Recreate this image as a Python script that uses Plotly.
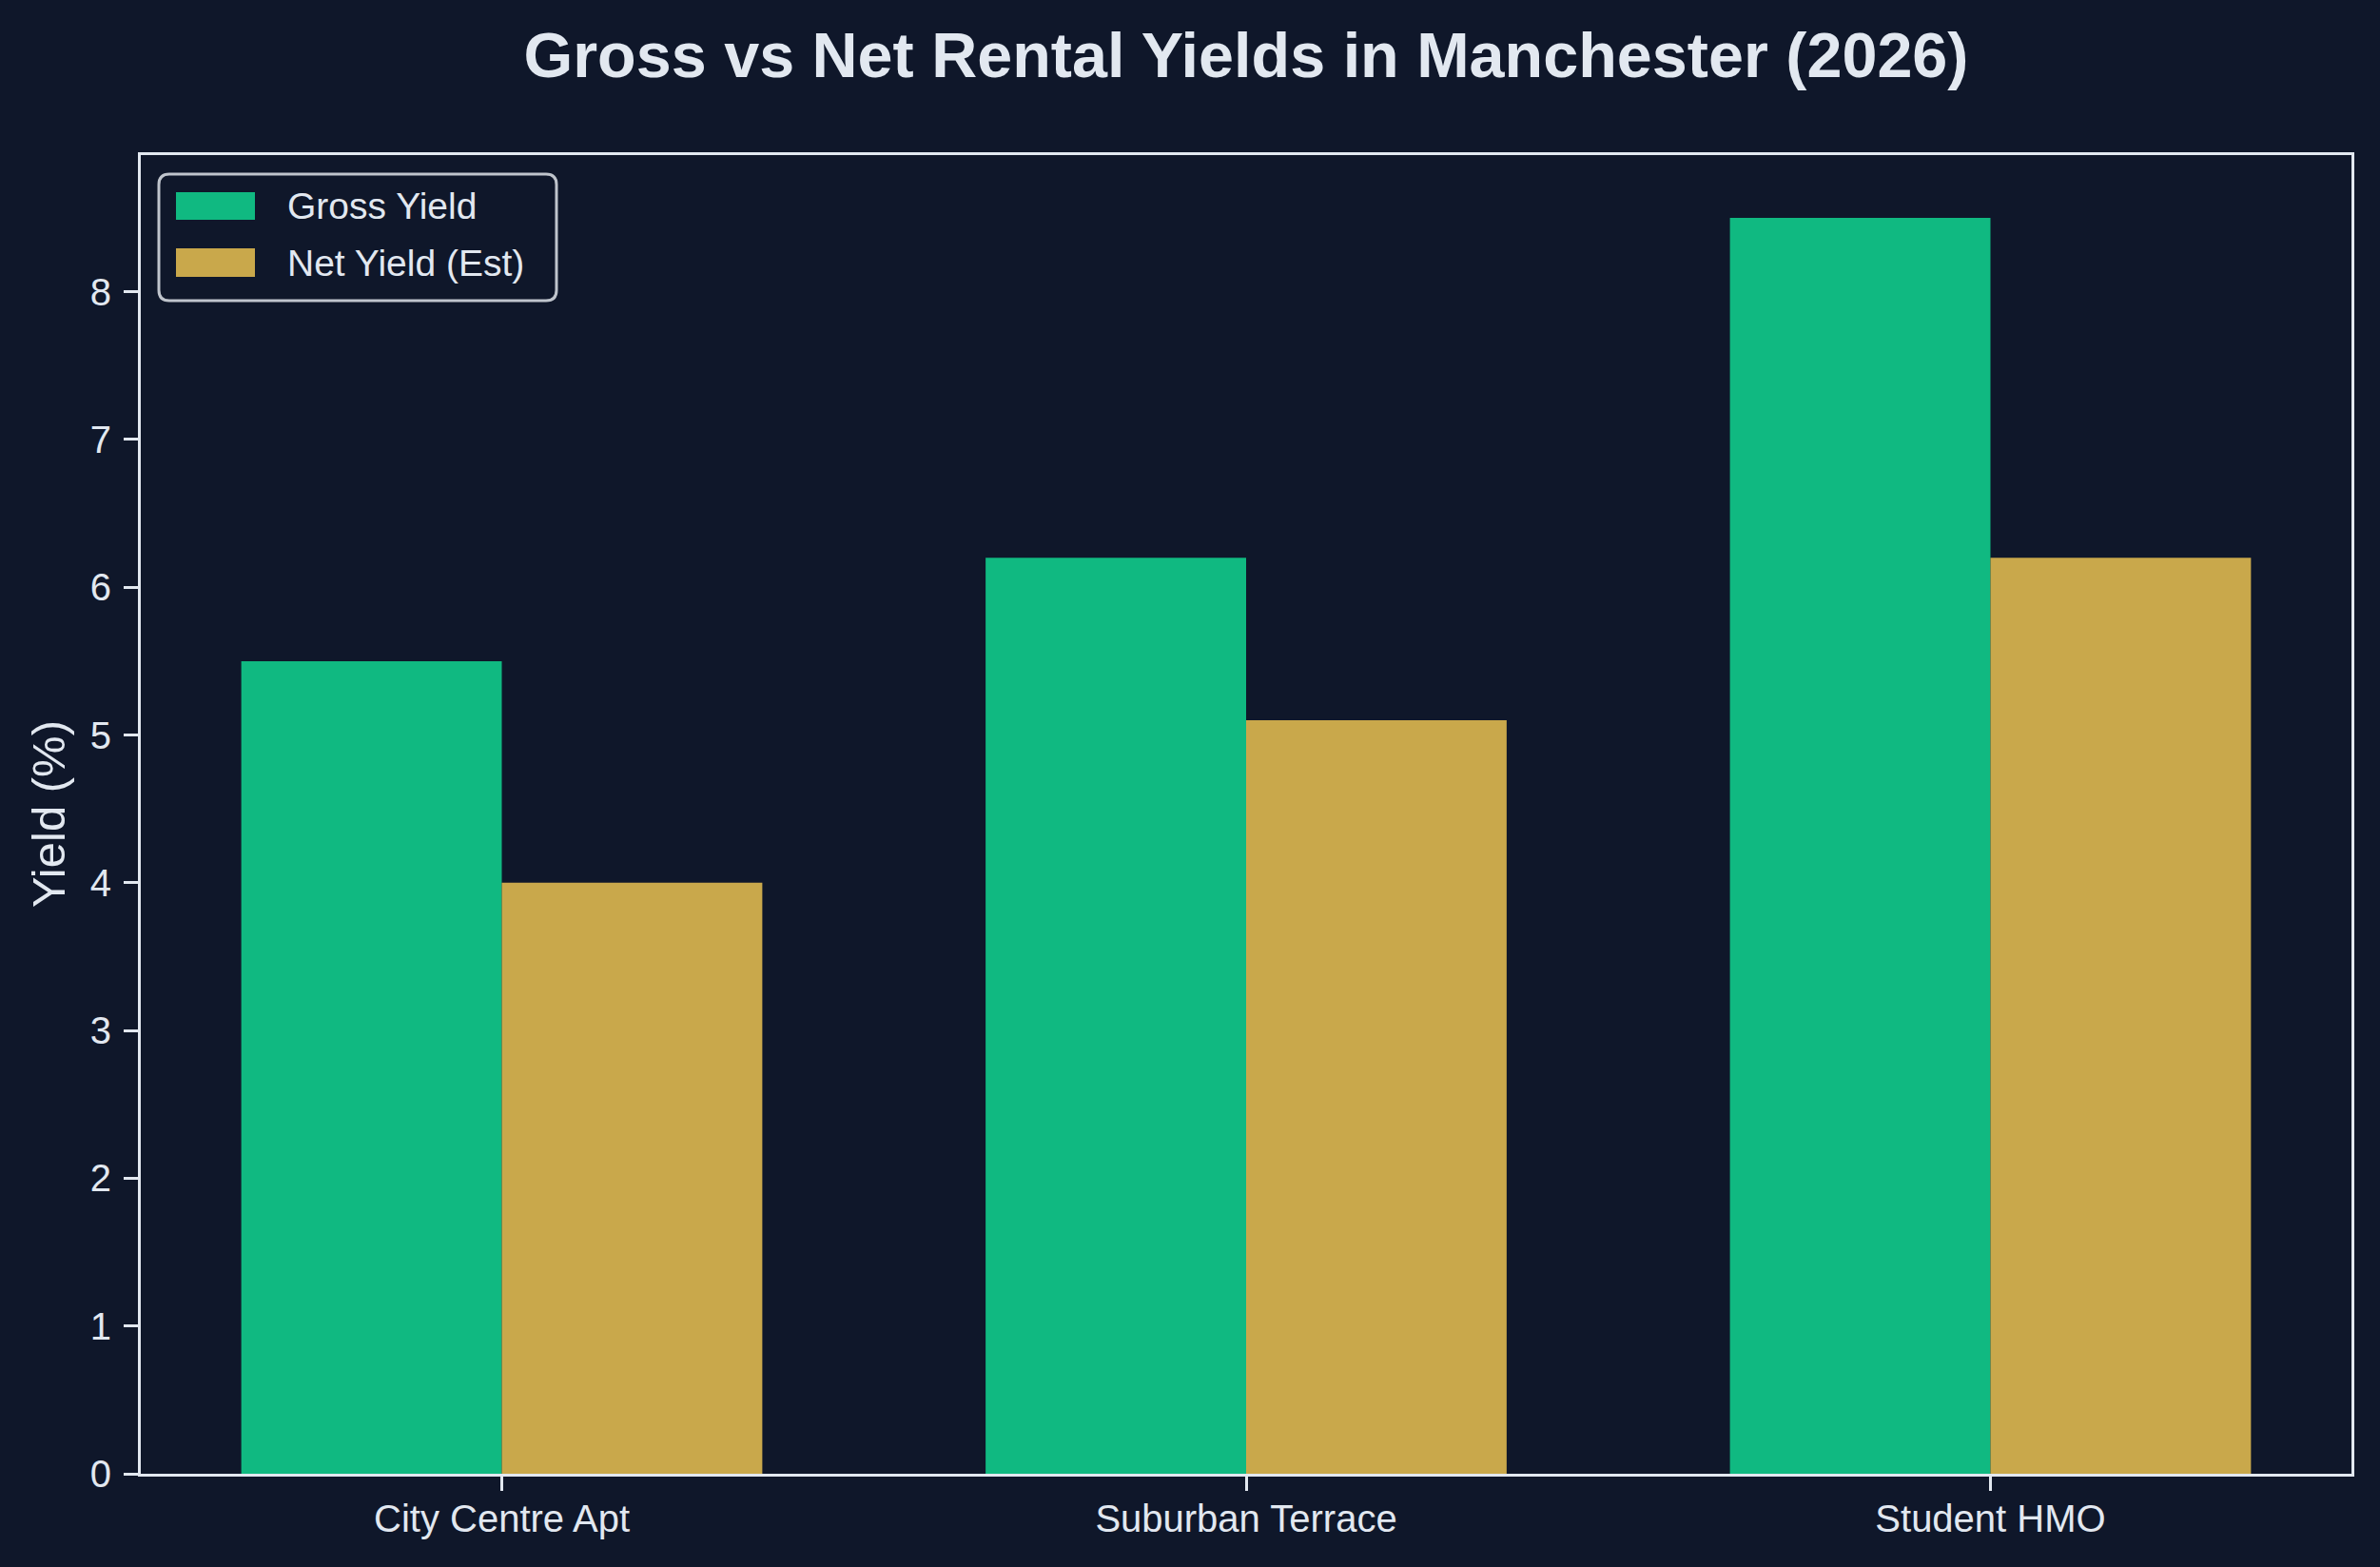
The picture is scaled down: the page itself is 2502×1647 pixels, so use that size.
import plotly.graph_objects as go

categories = ["City Centre Apt", "Suburban Terrace", "Student HMO"]
gross_yield = [5.5, 6.2, 8.5]
net_yield = [4.0, 5.1, 6.2]
series_names = ["Gross Yield", "Net Yield (Est)"]
y_ticks = [0, 1, 2, 3, 4, 5, 6, 7, 8]

BG = "#0f172a"
TXT = "#e2e8f0"
GREEN = "#10b981"
GOLD = "#c9a84b"
FONT = "Liberation Sans, Arial, Helvetica, sans-serif"

W, H = 2502, 1647
L, R, T, B = 148, 30, 163, 98
PW, PH = W - L - R, H - T - B


def px_x(px):
    return (px - L) / PW


def px_y(py):
    return (H - B - py) / PH


fig = go.Figure()
fig.add_trace(go.Bar(x=categories, y=gross_yield, name=series_names[0],
                     marker=dict(color=GREEN, line=dict(width=0)), showlegend=False))
fig.add_trace(go.Bar(x=categories, y=net_yield, name=series_names[1],
                     marker=dict(color=GOLD, line=dict(width=0)), showlegend=False))

# custom legend (matplotlib-like fancy box)
x0, x1, y0, y1 = 167, 585, 183, 316
r = 11
rx, ry = r / PW, r / PH
X0, X1, Y0, Y1 = px_x(x0), px_x(x1), px_y(y1), px_y(y0)
path = (f"M {X0+rx},{Y0} L {X1-rx},{Y0} Q {X1},{Y0} {X1},{Y0+ry} "
        f"L {X1},{Y1-ry} Q {X1},{Y1} {X1-rx},{Y1} "
        f"L {X0+rx},{Y1} Q {X0},{Y1} {X0},{Y1-ry} "
        f"L {X0},{Y0+ry} Q {X0},{Y0} {X0+rx},{Y0} Z")
shapes = [dict(type="path", xref="paper", yref="paper", path=path,
               fillcolor=BG, line=dict(color="#bfc4cc", width=3), layer="above")]
legend_rows = [(202, 231, GREEN, series_names[0]), (261, 291, GOLD, series_names[1])]
annotations = []
for ya, yb, col, name in legend_rows:
    shapes.append(dict(type="rect", xref="paper", yref="paper",
                       x0=px_x(185), x1=px_x(268), y0=px_y(yb), y1=px_y(ya),
                       fillcolor=col, line=dict(width=0), layer="above"))
    annotations.append(dict(xref="paper", yref="paper", x=px_x(300), y=px_y((ya + yb) / 2),
                            text=name, showarrow=False, xanchor="left", yanchor="middle",
                            font=dict(size=39, color=TXT, family=FONT)))

# y axis title
annotations.append(dict(xref="paper", yref="paper", x=px_x(51), y=0.5, text="Yield (%)",
                        textangle=-90, showarrow=False, xanchor="center", yanchor="middle",
                        font=dict(size=49, color=TXT, family=FONT)))

fig.update_layout(
    width=W, height=H,
    margin=dict(l=L, r=R, t=T, b=B, pad=0),
    paper_bgcolor=BG, plot_bgcolor=BG,
    barmode="group", bargap=0.3, bargroupgap=0,
    font=dict(family=FONT, color=TXT, size=40),
    title=dict(text="<b>Gross vs Net Rental Yields in Manchester (2026)</b>",
               x=1310 / W, xanchor="center",
               y=1 - 58 / H, yanchor="middle", yref="container",
               font=dict(size=66.5, color=TXT, family=FONT)),
    xaxis=dict(type="category", range=[-0.485, 2.485], showgrid=False, zeroline=False,
               showline=True, linecolor=TXT, linewidth=3, mirror=True,
               ticks="outside", ticklen=15, tickwidth=2.5, tickcolor=TXT,
               ticklabelstandoff=-5,
               tickfont=dict(size=40, color=TXT, family=FONT)),
    yaxis=dict(range=[0, 8.925], tickvals=y_ticks, showgrid=False, zeroline=False,
               showline=True, linecolor=TXT, linewidth=3, mirror=True,
               ticks="outside", ticklen=15, tickwidth=2.5, tickcolor=TXT,
               ticklabelstandoff=5,
               tickfont=dict(size=40, color=TXT, family=FONT)),
    shapes=shapes,
    annotations=annotations,
)

fig.write_html("out.html")
